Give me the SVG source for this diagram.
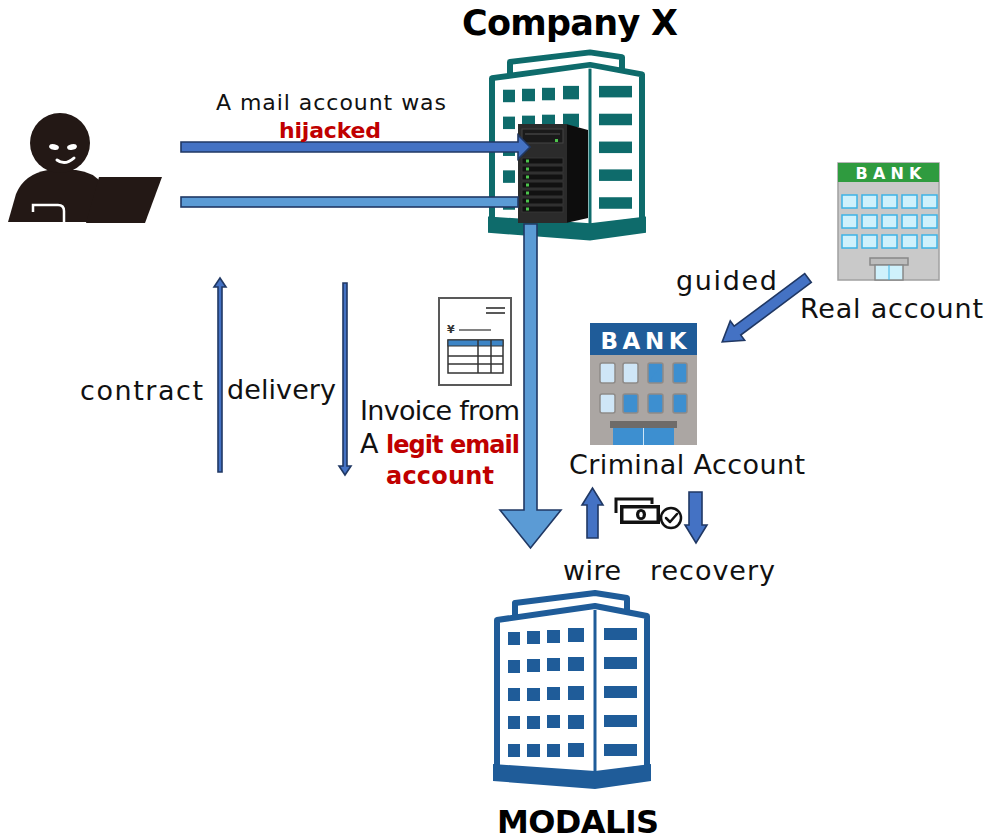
<svg xmlns="http://www.w3.org/2000/svg" width="985" height="840" viewBox="0 0 985 840">
  <defs>
    <style>
      .lbl { font-family: "DejaVu Sans", "Liberation Sans", sans-serif; font-size: 27px; fill: #111; }
      .sm { font-size: 22px; }
      .red { fill: #C00000; font-weight: bold; }
      .rb { font-size: 24px; }
      .title { font-family: "DejaVu Sans", "Liberation Sans", sans-serif; font-weight: bold; fill: #000; }
      .bankword { font-family: "DejaVu Sans", "Liberation Sans", sans-serif; font-weight: bold; fill: #fff; }
      .conn { stroke: #203864; stroke-width: 1.6; stroke-linejoin: miter; }
      .dark { fill: #4472C4; }
      .light { fill: #5B9BD5; }
      .win { fill: #CFF1FC; stroke: #3DB3E6; stroke-width: 1.5; }
      .cwin { fill: #3D8FD0; stroke: #8E8A88; stroke-width: 1.5; }
      .cwinl { fill: #CFE6F7; stroke: #8E8A88; stroke-width: 1.5; }
    </style>
    <!-- office tower, drawn in currentColor -->
    <g id="office">
      <polygon points="515,618 515,603 595,593 627,598 627,612" fill="#fff" stroke="currentColor" stroke-width="6" stroke-linejoin="round"/>
      <polygon points="497,620 595,606 647,616 647,768 595,775 497,768" fill="#fff" stroke="currentColor" stroke-width="6" stroke-linejoin="round"/>
      <line x1="595" y1="610" x2="595" y2="772" stroke="currentColor" stroke-width="3"/>
      <polygon points="493,764 595,771 651,764 651,781 595,789 493,781" fill="currentColor"/>
      <g fill="currentColor">
        <rect x="508" y="632" width="12" height="13"/><rect x="527" y="631" width="13" height="13"/><rect x="547" y="630" width="13" height="13"/><rect x="568" y="628" width="16" height="14"/>
        <rect x="508" y="660" width="12" height="13"/><rect x="527" y="659" width="13" height="13"/><rect x="547" y="658" width="13" height="13"/><rect x="568" y="657" width="16" height="14"/>
        <rect x="508" y="688" width="12" height="13"/><rect x="527" y="688" width="13" height="13"/><rect x="547" y="687" width="13" height="13"/><rect x="568" y="686" width="16" height="14"/>
        <rect x="508" y="716" width="12" height="13"/><rect x="527" y="716" width="13" height="13"/><rect x="547" y="715" width="13" height="13"/><rect x="568" y="715" width="16" height="14"/>
        <rect x="508" y="744" width="12" height="13"/><rect x="527" y="744" width="13" height="13"/><rect x="547" y="744" width="13" height="13"/><rect x="568" y="743" width="16" height="14"/>
        <rect x="604" y="628" width="33" height="12"/><rect x="604" y="657" width="33" height="12"/><rect x="604" y="686" width="33" height="12"/><rect x="604" y="715" width="33" height="12"/><rect x="604" y="744" width="33" height="12"/>
      </g>
    </g>
  </defs>

  <rect width="985" height="840" fill="#fff"/>

  <!-- attacker -->
  <g id="attacker">
    <path d="M8,222 L16,194 Q24,174 48,170 L76,170 Q94,172 102,184 L100,222 Z" fill="#231815"/>
    <circle cx="60" cy="143" r="30" fill="#231815"/>
    <ellipse cx="54" cy="147" rx="5" ry="2.8" fill="#fff" transform="rotate(12 54 147)"/>
    <ellipse cx="72" cy="147" rx="5" ry="2.8" fill="#fff" transform="rotate(-12 72 147)"/>
    <path d="M57,160 Q65,166 74,158" fill="none" stroke="#fff" stroke-width="3" stroke-linecap="round"/>
    <polygon points="99,177 162,177 145,223 86,223" fill="#231815"/>
    <path d="M33,212 L33,205 L58,205 Q64,205 64,211 L64,223" fill="none" stroke="#fff" stroke-width="2.5"/>
  </g>

  <!-- Company X -->
  <g id="company-x">
    <use href="#office" transform="translate(-5,-517) scale(1,0.96)" style="color:#0E6B6B"/>
    <g id="server">
      <polygon points="566,124 588,130 588,218 566,223" fill="#0d0d0d"/>
      <rect x="518" y="124" width="49" height="99" fill="#2b2b2b"/>
      <rect x="522" y="129" width="41" height="14" fill="#1a1a1a" stroke="#444" stroke-width="1"/>
      <line x1="525" y1="134" x2="560" y2="134" stroke="#555" stroke-width="1"/>
      <rect x="555" y="139" width="3" height="3" fill="#4CC44C"/>
      <g fill="#111" stroke="#3a3a3a" stroke-width="0.8">
        <rect x="522" y="158" width="41" height="6"/><rect x="522" y="166" width="41" height="6"/><rect x="522" y="174" width="41" height="6"/><rect x="522" y="182" width="41" height="6"/><rect x="522" y="190" width="41" height="6"/><rect x="522" y="198" width="41" height="6"/><rect x="522" y="206" width="41" height="6"/>
      </g>
      <g fill="#4CC44C">
        <rect x="526" y="159.5" width="3" height="3"/><rect x="526" y="167.5" width="3" height="3"/><rect x="526" y="175.5" width="3" height="3"/><rect x="526" y="183.5" width="3" height="3"/><rect x="526" y="191.5" width="3" height="3"/><rect x="526" y="199.5" width="3" height="3"/><rect x="526" y="207.5" width="3" height="3"/>
      </g>
    </g>
    <text class="title" x="570" y="35" font-size="35" text-anchor="middle" textLength="216">Company X</text>
  </g>

  <!-- MODALIS -->
  <g id="modalis">
    <use href="#office" style="color:#1F5C99"/>
    <text class="title" x="578" y="833" font-size="32" text-anchor="middle" textLength="162">MODALIS</text>
  </g>

  <!-- real bank -->
  <g id="real-bank">
    <rect x="838" y="163" width="101" height="117" fill="#C9C9C9" stroke="#A0A0A0" stroke-width="1.5"/>
    <rect x="838" y="163" width="101" height="19" fill="#2F9B3F"/>
    <text class="bankword" x="888.5" y="179" font-size="16" text-anchor="middle" textLength="66">BANK</text>
    <rect class="win" x="842" y="195" width="15" height="13"/><rect class="win" x="862" y="195" width="15" height="13"/><rect class="win" x="882" y="195" width="15" height="13"/><rect class="win" x="902" y="195" width="15" height="13"/><rect class="win" x="922" y="195" width="15" height="13"/>
    <rect class="win" x="842" y="215" width="15" height="13"/><rect class="win" x="862" y="215" width="15" height="13"/><rect class="win" x="882" y="215" width="15" height="13"/><rect class="win" x="902" y="215" width="15" height="13"/><rect class="win" x="922" y="215" width="15" height="13"/>
    <rect class="win" x="842" y="235" width="15" height="13"/><rect class="win" x="862" y="235" width="15" height="13"/><rect class="win" x="882" y="235" width="15" height="13"/><rect class="win" x="902" y="235" width="15" height="13"/><rect class="win" x="922" y="235" width="15" height="13"/>
    <rect x="870" y="258" width="38" height="7" fill="#BDBDBD" stroke="#888" stroke-width="1.5"/>
    <rect x="875" y="265" width="28" height="15" fill="#CFF1FC" stroke="#888" stroke-width="1.5"/>
    <line x1="889" y1="265" x2="889" y2="280" stroke="#3DB3E6" stroke-width="1"/>
    <text class="lbl" x="800" y="318" textLength="183">Real account</text>
  </g>

  <!-- criminal bank -->
  <g id="criminal-bank">
    <rect x="590" y="323" width="107" height="122" fill="#ABA6A3"/>
    <rect x="590" y="323" width="107" height="32" fill="#1F5C99"/>
    <text class="bankword" x="643.5" y="349" font-size="23" text-anchor="middle" textLength="86">BANK</text>
    <rect class="cwinl" x="600" y="363" width="15" height="20" rx="2"/><rect class="cwinl" x="623" y="363" width="15" height="20" rx="2"/>
    <rect class="cwin" x="648" y="363" width="15" height="20" rx="2"/><rect class="cwin" x="673" y="363" width="14" height="20" rx="2"/>
    <polygon points="649,382 662,364 662,382" fill="#3D8FD0"/>
    <rect class="cwinl" x="600" y="394" width="15" height="19" rx="2"/><rect class="cwin" x="623" y="394" width="15" height="19" rx="2"/>
    <rect class="cwin" x="648" y="394" width="15" height="19" rx="2"/><rect class="cwin" x="673" y="394" width="14" height="19" rx="2"/>
    <rect x="610" y="421" width="67" height="7" fill="#6E6B69"/>
    <rect x="613" y="428" width="61" height="17" fill="#3D8FD0"/>
    <line x1="643.5" y1="428" x2="643.5" y2="445" stroke="#CFE6F7" stroke-width="1"/>
    <text class="lbl" x="569" y="474" textLength="236">Criminal Account</text>
  </g>

  <!-- invoice -->
  <g id="invoice">
    <rect x="439" y="298" width="72" height="87" fill="#fff" stroke="#595959" stroke-width="2"/>
    <line x1="486" y1="308" x2="505" y2="308" stroke="#595959" stroke-width="2"/>
    <line x1="486" y1="313" x2="505" y2="313" stroke="#595959" stroke-width="2"/>
    <text x="447" y="333" font-family="DejaVu Sans, sans-serif" font-size="11" font-weight="bold" fill="#333">¥</text>
    <line x1="459" y1="330" x2="491" y2="330" stroke="#595959" stroke-width="1.5"/>
    <rect x="448" y="340" width="55" height="33" fill="#fff" stroke="#333" stroke-width="1.5"/>
    <rect x="448" y="340" width="55" height="6" fill="#3D85C6" stroke="#333" stroke-width="1"/>
    <g stroke="#333" stroke-width="1.5">
      <line x1="448" y1="356" x2="503" y2="356"/><line x1="448" y1="364" x2="503" y2="364"/>
      <line x1="478" y1="340" x2="478" y2="373"/><line x1="491" y1="340" x2="491" y2="373"/>
    </g>
    <text class="lbl" x="360" y="420" textLength="160">Invoice from</text>
    <text class="lbl" x="360" y="453">A <tspan class="red rb" x="386" textLength="134">legit email</tspan></text>
    <text class="lbl red rb" x="440" y="484" text-anchor="middle" textLength="108">account</text>
  </g>

  <!-- money -->
  <g id="money">
    <path d="M616,513 L616,499 L652,499 L652,504" fill="none" stroke="#111" stroke-width="3"/>
    <rect x="620" y="505" width="40" height="19" fill="#111"/>
    <rect x="623.5" y="508.5" width="33" height="12" fill="#fff"/>
    <ellipse cx="641" cy="514.5" rx="5" ry="5.5" fill="#111"/>
    <ellipse cx="641" cy="514.5" rx="1.8" ry="2.8" fill="#fff"/>
    <circle cx="671" cy="518" r="10" fill="#fff" stroke="#111" stroke-width="2.5"/>
    <path d="M666,518 L670,522 L677,514" fill="none" stroke="#111" stroke-width="2.5" stroke-linecap="round" stroke-linejoin="round"/>
  </g>

  <!-- connectors -->
  <g id="connectors">
    <path class="conn dark" d="M181,142 L518,142 L518,135 L530,147 L518,159 L518,152 L181,152 Z"/>
    <rect class="conn light" x="181" y="197" width="337" height="10"/>
    <path class="conn light" d="M524,224 L537,224 L537,510 L561,510 L530.5,548 L500,510 L524,510 Z"/>
    <path class="conn dark" d="M218,472 L218,287 L214,287 L220,278 L226,287 L222,287 L222,472 Z"/>
    <path class="conn dark" d="M343,283 L347,283 L347,466 L351,466 L345,475 L339,466 L343,466 Z"/>
    <path class="conn dark" transform="translate(808,278) rotate(143.3)" d="M0,-5.5 L88,-5.5 L88,-12 L107,0 L88,12 L88,5.5 L0,5.5 Z"/>
    <path class="conn dark" d="M587,538 L598,538 L598,505 L603,505 L592.5,488 L582,505 L587,505 Z"/>
    <path class="conn dark" d="M689,492 L702,492 L702,525 L707,525 L696,543 L685,525 L689,525 Z"/>
  </g>

  <!-- connector labels -->
  <g id="labels">
    <text class="lbl sm" x="331" y="110" text-anchor="middle" textLength="230">A mail account was</text>
    <text class="lbl sm red" x="330" y="138" text-anchor="middle" textLength="102">hijacked</text>
    <text class="lbl" x="80" y="400" textLength="123">contract</text>
    <text class="lbl" x="227" y="399" textLength="109">delivery</text>
    <text class="lbl" x="676" y="290" textLength="101">guided</text>
    <text class="lbl" x="563" y="580" textLength="58">wire</text>
    <text class="lbl" x="650" y="580" textLength="125">recovery</text>
  </g>
</svg>
